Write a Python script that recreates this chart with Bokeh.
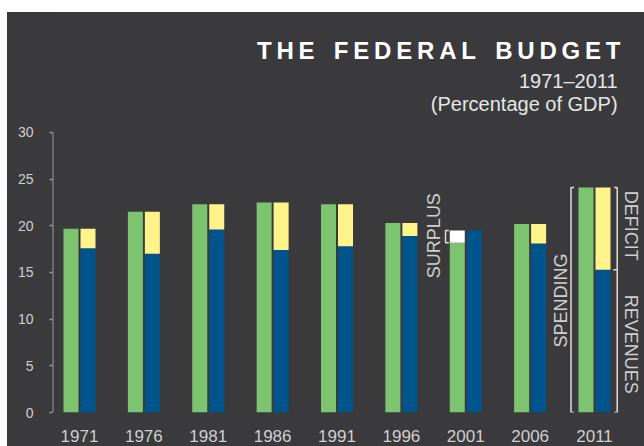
import math
from bokeh.plotting import figure
from bokeh.models import Range1d, FixedTicker, Label, ColumnDataSource
from bokeh.embed import file_html
from bokeh.resources import INLINE

# ---- data (percentage of GDP) ----
years = [1971, 1976, 1981, 1986, 1991, 1996, 2001, 2006, 2011]
spending = [19.7, 21.5, 22.3, 22.5, 22.3, 20.3, 18.2, 20.2, 24.1]
revenues = [17.6, 17.0, 19.6, 17.4, 17.8, 18.9, 19.5, 18.1, 15.3]
y_ticks = [0, 5, 10, 15, 20, 25, 30]

title = "THE FEDERAL BUDGET"
subtitle1 = "1971\u20132011"
subtitle2 = "(Percentage of GDP)"

# ---- styles ----
BG = "#3a3a3c"
GREEN = "#7cc470"
BLUE = "#00548c"
YELLOW = "#fff38c"
SURPLUS = "#ffffff"
TXT = "#cfcfcf"
FONT = "Liberation Sans"
THIN = "\u2009"

bar_w = 1.165
off = 0.66

p = figure(width=637, height=434, output_backend="svg", toolbar_location=None,
           x_range=Range1d(1968.903, 2014.883), y_range=Range1d(0, 42.857),
           min_border_left=45, min_border_right=0, min_border_top=0, min_border_bottom=34)
p.margin = (12, 0, 0, 7)
p.styles = {"background-color": BG}
p.background_fill_color = BG
p.border_fill_color = BG
p.outline_line_color = None
p.xgrid.visible = False
p.ygrid.visible = False

src = ColumnDataSource(dict(
    xg=[y - off for y in years],
    xb=[y + off for y in years],
    spending=spending,
    revenues=revenues,
))

# spending bars
p.vbar(x="xg", width=bar_w, top="spending", bottom=0, source=src,
       fill_color=GREEN, line_color=None)
# revenue bars
p.vbar(x="xb", width=bar_w, top="revenues", bottom=0, source=src,
       fill_color=BLUE, line_color=None)

# deficit (yellow, on revenue bar) and surplus (white, on spending bar)
dx, dt, db, sx, st, sb = [], [], [], [], [], []
for y, s, r in zip(years, spending, revenues):
    if s > r:
        dx.append(y + off); dt.append(s); db.append(r)
    else:
        sx.append(y - off); st.append(r); sb.append(s)
p.vbar(x=dx, width=bar_w, top=dt, bottom=db, fill_color=YELLOW, line_color=None)
p.vbar(x=sx, width=bar_w, top=st, bottom=sb, fill_color=SURPLUS, line_color=None)

# ---- axes ----
xa = p.xaxis[0]
xa.ticker = FixedTicker(ticks=years)
xa.axis_line_color = None
xa.major_tick_line_color = None
xa.minor_tick_line_color = None
xa.major_label_text_color = TXT
xa.major_label_text_font = FONT
xa.major_label_text_font_size = "17px"
xa.major_label_standoff = 11

ya = p.yaxis[0]
ya.ticker = FixedTicker(ticks=y_ticks)
ya.axis_line_color = None
ya.major_tick_line_color = "#9a9a9a"
ya.major_tick_line_width = 1.5
ya.major_tick_in = 0
ya.major_tick_out = 3
ya.minor_tick_line_color = None
ya.major_label_text_color = TXT
ya.major_label_text_font = FONT
ya.major_label_text_font_size = "14px"
ya.major_label_standoff = 16
# axis spine only from 0 to 30
p.segment(x0=[p.x_range.start], x1=[p.x_range.start], y0=[y_ticks[0]], y1=[y_ticks[-1]],
          line_color="#9a9a9a", line_width=2)

# ---- brackets around 2011 ----
last = len(years) - 1
s_last, r_last = spending[last], revenues[last]
xl, xr, tk = years[last] - 1.825, years[last] + 1.763, 0.24
p.multi_line(xs=[[xl + tk, xl, xl, xl + tk], [xr - tk, xr, xr, xr - tk], [xr - 0.3, xr]],
             ys=[[s_last, s_last, 0, 0], [s_last, s_last, 0, 0], [r_last, r_last]],
             line_color="#dddddd", line_width=1.5)

# surplus bracket (2001)
si = 6
xs0 = years[si] - 1.57
p.multi_line(xs=[[xs0 + 0.26, xs0, xs0, xs0 + 0.26]],
             ys=[[revenues[si], revenues[si], spending[si], spending[si]]],
             line_color="#dddddd", line_width=1.5)

# ---- rotated labels ----
def rot_label(x, y, text, angle):
    p.add_layout(Label(x=x, y=y, text=text, angle=angle, text_align="center",
                       text_baseline="middle", text_color=TXT, text_font=FONT,
                       text_font_size="18px"))

rot_label(years[si] - 2.48, (spending[si] + revenues[si]) / 2 + 0.1, "SURPLUS", math.pi / 2)
rot_label(years[last] - 2.64, 12.0, "SPENDING", math.pi / 2)
rot_label(years[last] + 2.87, 20.0, "DEFICIT", -math.pi / 2)
rot_label(years[last] + 2.87, 7.3, "REVENUES", -math.pi / 2)

# ---- title ----
spaced = (THIN * 4).join(THIN.join(w) for w in title.split(" "))
p.add_layout(Label(x=2013.02, y=38.8, text=spaced, text_align="right",
                   text_baseline="middle", text_color="#ffffff",
                   text_font=FONT, text_font_style="bold",
                   text_font_size="24px"))
p.add_layout(Label(x=2012.79, y=35.5, text=subtitle1, text_align="right",
                   text_baseline="middle", text_color="#e6e6e6",
                   text_font=FONT, text_font_size="20px"))
p.add_layout(Label(x=2012.79, y=33.05, text=subtitle2, text_align="right",
                   text_baseline="middle", text_color="#e6e6e6",
                   text_font=FONT, text_font_size="20px"))

open("out.html", "w").write(file_html(p, INLINE))
